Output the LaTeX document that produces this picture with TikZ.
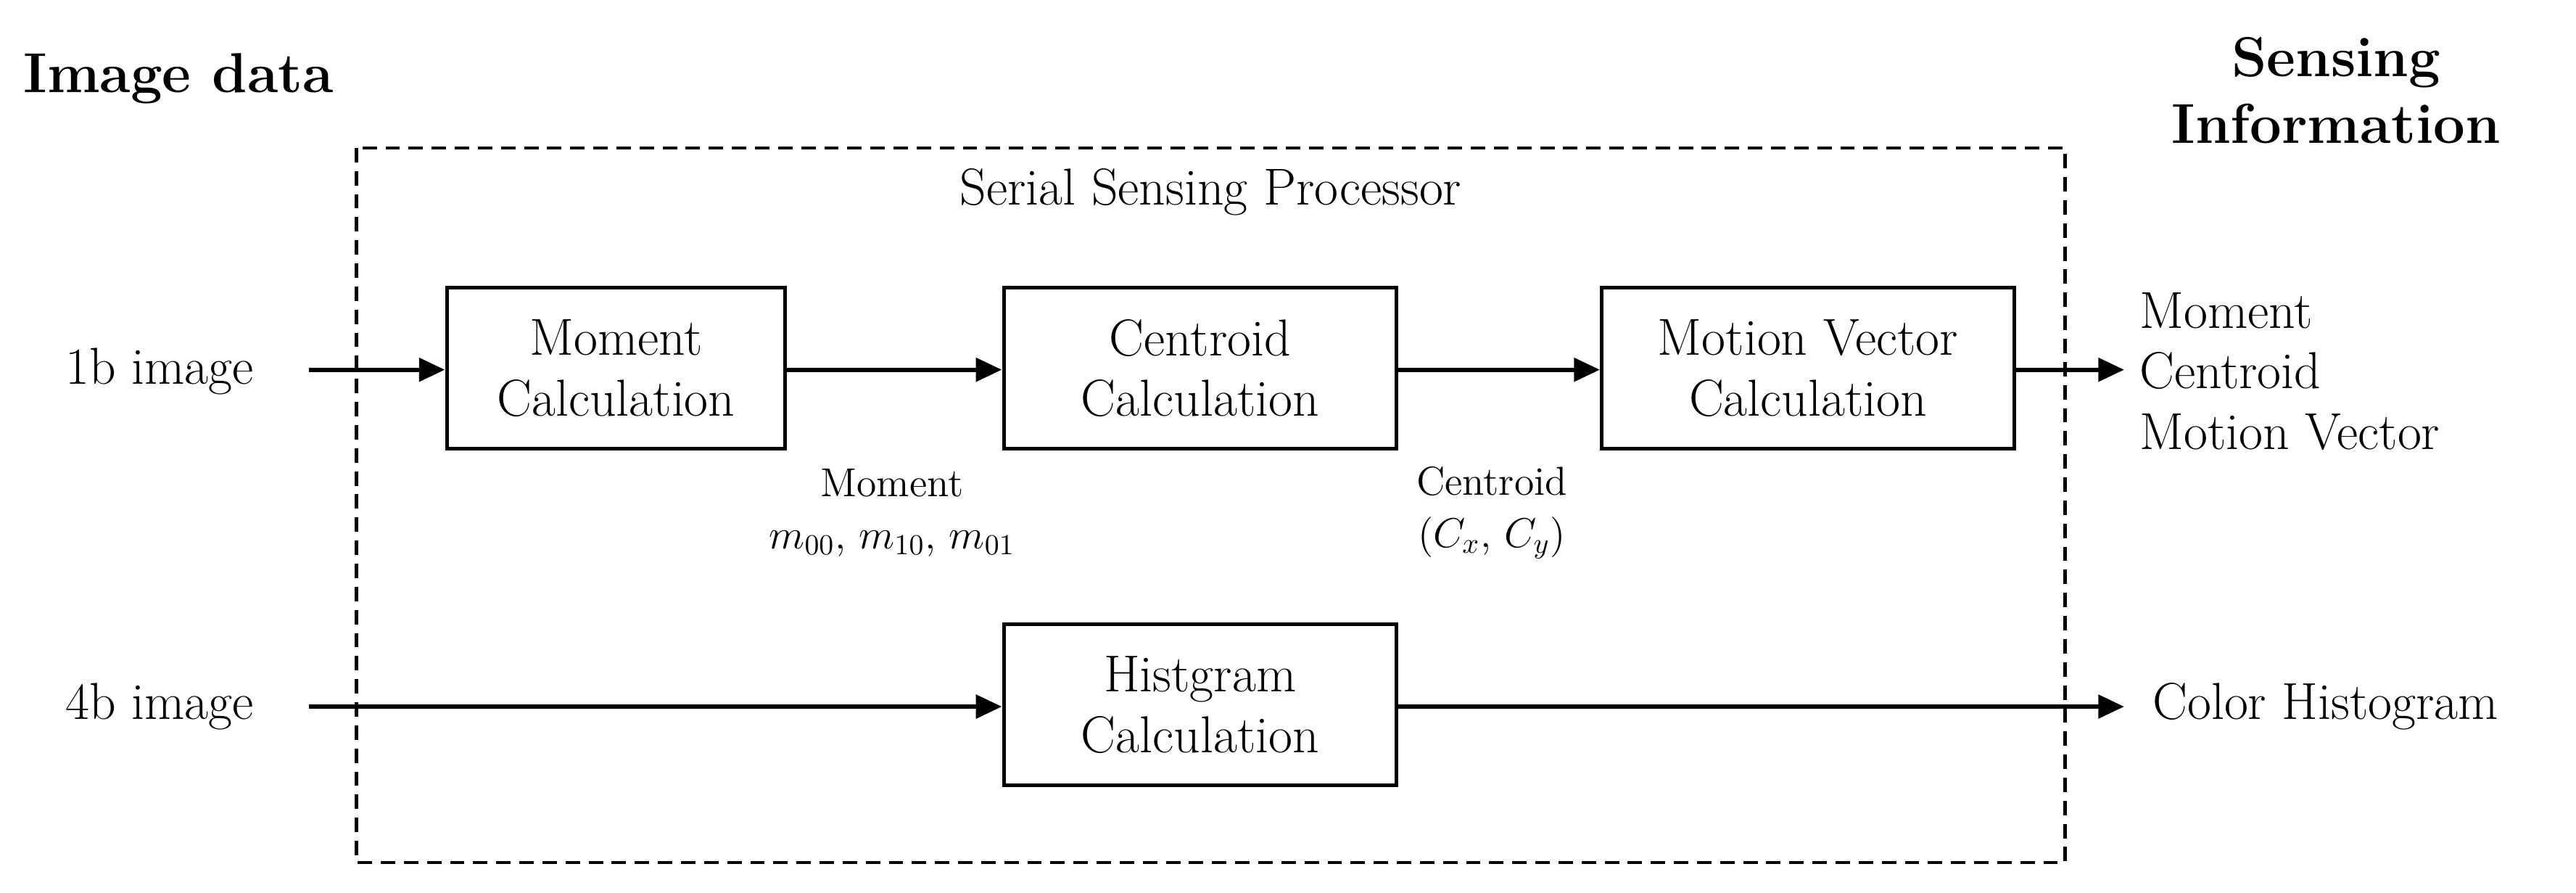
\documentclass[tikz,border=0pt]{standalone}
\usepackage{tikz}
\usetikzlibrary{arrows.meta}
\begin{document}
\begin{tikzpicture}[x=0.02cm,y=-0.02cm,
  box/.style={draw,line width=1.3pt,inner sep=0pt,align=center,font=\fontsize{18}{21}\selectfont},
  txt/.style={inner sep=0pt,font=\fontsize{18}{21}\selectfont},
  lbl/.style={inner sep=0pt,align=center,font=\fontsize{14}{18}\selectfont},
  ttl/.style={inner sep=0pt,align=center,font=\fontsize{19.5}{23}\selectfont\bfseries},
  arr/.style={line width=1.6pt,-{Triangle[length=9pt,width=8pt]}}]
\useasboundingbox (0,0) rectangle (1568,543);
\draw[line width=1.1pt,dash pattern=on 5pt off 3pt] (217,90) rectangle (1257,525);
\node[txt] (ssp) at (737,117) {Serial Sensing Processor};
\node[ttl,anchor=west] (imgdata) at (14,48) {Image data};
\node[ttl] (sense) at (1422,55) {Sensing\\Information};
\node[box,minimum width=206*0.02cm,minimum height=98*0.02cm] (mom) at (375,224) {Moment\\Calculation};
\node[box,minimum width=239*0.02cm,minimum height=98*0.02cm] (cen) at (730.5,224) {Centroid\\Calculation};
\node[box,minimum width=251*0.02cm,minimum height=98*0.02cm] (mot) at (1100.5,224) {Motion Vector\\Calculation};
\node[box,minimum width=239*0.02cm,minimum height=98*0.02cm] (his) at (730.5,429) {Histgram\\Calculation};
\node[txt] (in1) at (97,226) {1b image};
\node[txt] (in4) at (97,430) {4b image};
\coordinate (s1) at (188,225);
\coordinate (s4) at (188,430);
\coordinate (o1) at (1293,225);
\coordinate (o4) at (1293,430);
\node[txt,anchor=west,align=left] (out1) at (1302,226) {Moment\\Centroid\\Motion Vector};
\node[txt,anchor=west] (out4) at (1310,430) {Color Histogram};
\node[lbl] (lm) at (543,312) {Moment\\$m_{00}$, $m_{10}$, $m_{01}$};
\node[lbl] (lc) at (908,312) {Centroid\\($C_x$, $C_y$)};
\draw[arr] (s1) -- (mom.west |- s1);
\draw[arr] (mom.east |- s1) -- (cen.west |- s1);
\draw[arr] (cen.east |- s1) -- (mot.west |- s1);
\draw[arr] (mot.east |- s1) -- (o1);
\draw[arr] (s4) -- (his.west |- s4);
\draw[arr] (his.east |- s4) -- (o4);
\end{tikzpicture}
\end{document}
